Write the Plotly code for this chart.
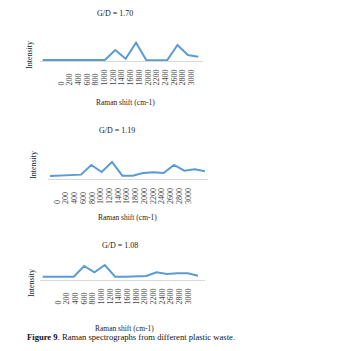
import plotly.graph_objects as go

# ---- data ----
shift_labels = ["0", "200", "400", "600", "800", "1000", "1200", "1400", "1600",
                "1800", "2000", "2200", "2400", "2600", "2800", "3000"]
point_index = list(range(16))
intensity_a = [3, 3, 2, 1, 2, 2.5, 3, 33, 7, 55, 2, 2, 2, 48, 18, 13]
intensity_b = [10, 11, 12, 14, 43, 22, 52, 11, 11, 19, 21, 19, 43, 26, 30, 24]
intensity_c = [10, 10, 10, 10, 42, 23, 45, 10, 10, 10, 12, 23, 18, 20, 20, 13]
ratio_titles = ["G/D = 1.70", "G/D = 1.19", "G/D = 1.08"]
y_title = "Intensity"
x_title = "Raman shift (cm-1)"
caption = "<b>Figure 9</b>. Raman spectrographs from different plastic waste."

W, H = 345, 351
FONT = "Liberation Serif"
LINE = "#5B9BD5"


def px_x(v):
    return v / W


def px_y(v):
    return 1 - v / H


# panel geometry (pixels)
panels = [
    dict(vals=intensity_a, axis=61.0, d0=40, d1=203, ls=42.7, lsp=10.37, ks=61, ksp=8.7,
         tx=115, ty=13.5, yx=30, yy=55, xx=125, xy=103),
    dict(vals=intensity_b, axis=179.3, d0=48, d1=208, ls=50.0, lsp=10.33, ks=57, ksp=8.73,
         tx=117, ty=130, yx=33, yy=165, xx=127, xy=217),
    dict(vals=intensity_c, axis=280.0, d0=40, d1=205, ls=42.7, lsp=10.35, ks=58, ksp=8.67,
         tx=120, ty=245, yx=31, yy=283, xx=124, xy=328),
]

padded = [s + "\u2007" * (4 - len(s)) for s in shift_labels]

fig = go.Figure()
layout = dict(
    width=W, height=H, margin=dict(l=0, r=0, t=0, b=0),
    paper_bgcolor="white", plot_bgcolor="white", showlegend=False,
    font=dict(family=FONT, size=8, color="#222222"),
)
annotations = []
for p, pn in enumerate(panels):
    xa = 2 * p + 1
    xb = 2 * p + 2
    ya = p + 1
    xs = "" if xa == 1 else str(xa)
    yname = "y" + ("" if ya == 1 else str(ya))
    fig.add_trace(go.Scatter(x=point_index, y=pn["vals"], mode="lines",
                             line=dict(color=LINE, width=2),
                             xaxis="x" + xs, yaxis=yname, hoverinfo="skip"))
    fig.add_trace(go.Scatter(x=padded, y=[None] * len(padded), mode="lines",
                             xaxis="x" + str(xb), yaxis=yname, hoverinfo="skip"))
    dom = [px_x(pn["d0"]), px_x(pn["d1"])]
    r_line = [(pn["d0"] - pn["ls"]) / pn["lsp"], (pn["d1"] - pn["ls"]) / pn["lsp"]]
    r_lab = [(pn["d0"] - pn["ks"]) / pn["ksp"], (pn["d1"] - pn["ks"]) / pn["ksp"]]
    ydom = [px_y(pn["axis"]), px_y(pn["axis"] - 26)]
    layout["xaxis" + xs] = dict(domain=dom, range=r_line, anchor=yname, showgrid=False,
                                zeroline=False, showline=True, linecolor="#d9d9d9",
                                linewidth=1, showticklabels=False, ticks="")
    layout["xaxis" + str(xb)] = dict(domain=dom, range=r_lab, anchor=yname,
                                     overlaying="x" + xs, type="category",
                                     categoryarray=padded, tickmode="array",
                                     tickvals=padded, ticktext=padded,
                                     showgrid=False, zeroline=False,
                                     showline=False, ticks="", tickangle=-90,
                                     ticklabelstandoff=6,
                                     tickfont=dict(family=FONT, size=8, color="#444444"))
    layout["yaxis" + ("" if ya == 1 else str(ya))] = dict(
        domain=ydom, range=[0, 78], anchor="x" + xs, showgrid=False, zeroline=False,
        showline=False, showticklabels=False, ticks="")
    annotations.append(dict(text=ratio_titles[p], x=px_x(pn["tx"]), y=px_y(pn["ty"]),
                            xref="paper", yref="paper", showarrow=False,
                            xanchor="center", yanchor="middle",
                            font=dict(family=FONT, size=8, color="#222222")))
    annotations.append(dict(text=y_title, x=px_x(pn["yx"]), y=px_y(pn["yy"]),
                            xref="paper", yref="paper", showarrow=False, textangle=-90,
                            xanchor="center", yanchor="middle",
                            font=dict(family=FONT, size=8, color="#222222")))
    annotations.append(dict(text=x_title, x=px_x(pn["xx"]), y=px_y(pn["xy"]),
                            xref="paper", yref="paper", showarrow=False,
                            xanchor="center", yanchor="middle",
                            font=dict(family=FONT, size=7.5, color="#222222")))

annotations.append(dict(text=caption, x=px_x(25), y=px_y(337), xref="paper", yref="paper",
                        showarrow=False, xanchor="left", yanchor="middle",
                        font=dict(family=FONT, size=8.6, color="#111111")))
layout["annotations"] = annotations
fig.update_layout(**layout)
fig.write_html("out.html")
